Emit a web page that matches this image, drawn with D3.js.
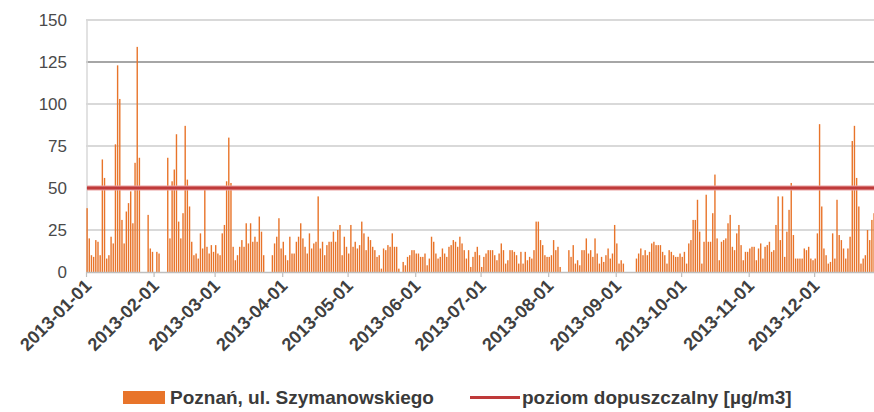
<!DOCTYPE html>
<html>
<head>
<meta charset="utf-8">
<script src="https://cdn.jsdelivr.net/npm/d3@7"></script>
<style>
  body { margin: 0; background: #fff; }
  svg { display: block; font-family: "Liberation Sans", Arial, sans-serif; }
</style>
</head>
<body>
<div id="chart"></div>
<script>
// Daily PM10 values, one array per month (null = no measurement)
const jan = [38, 20, 10, 9, 19, 18, 10, 67, 56, 8, 10, 21, 17, 76, 123, 103, 31, 17, 36, 41, 48, 29, 65, 134, 68, null, null, null, 34, 14, 12];
const feb = [null, 12, 11, null, null, null, 68, 20, 54, 61, 82, 30, 20, 35, 87, 55, 39, 18, 10, 11, 8, 23, 14, 49, 15, 11, 16, 12];
const mar = [16, 11, 10, 23, 28, 54, 80, 53, 15, 7, 10, 15, 19, 15, 29, 17, 29, 18, 21, 18, 33, 24, 10, null, null, null, 10, 17, 21, 32, 14];
const apr = [18, 10, 7, 21, 11, 11, 18, 21, 29, 20, 15, 11, 23, 14, 17, 18, 45, 14, 18, 10, 16, 18, 18, 24, 18, 25, 28, 10, 21, 15];
const may = [11, 28, 15, 18, 14, 16, 30, 23, 13, 21, 19, 15, 13, 9, 10, 2, 14, 13, 16, 15, 23, 15, 15, 2, null, 6, 4, 9, 10, 13, 13];
const jun = [11, 11, 9, 9, 11, 4, 8, 21, 18, 11, 8, 9, 14, 11, 9, 15, 16, 19, 18, 15, 21, 17, 13, 8, 13, 3, 9, 12, 15, 10];
const jul = [3, 9, 11, 13, 13, 13, 10, 7, 11, 17, 13, 5, 7, 13, 13, 12, 10, 5, 12, 5, 12, 7, 9, 8, 13, 30, 30, 19, 16, 10, 9];
const aug = [9, 10, 19, 13, 15, 3, null, null, null, 13, 9, 16, 5, 7, 4, 13, 13, 20, 11, 13, 9, 20, 11, 5, 9, 6, 10, 14, 8, 11, 28];
const sep = [17, 5, 7, 5, null, null, null, null, null, 8, 11, 14, 10, 13, 10, 12, 17, 18, 16, 16, 16, 12, 10, 5, 13, 12, 10, 9, 9, 11];
const oct = [9, 12, 5, 17, 19, 31, 31, 43, 24, 5, 18, 46, 18, 18, 35, 58, 20, 7, 18, 19, 20, 29, 34, 15, 13, 23, 28, 16, 7, 12, 12];
const nov = [14, 15, 15, 7, 14, 17, 8, 15, 16, 18, 12, 13, 28, 45, 19, 45, 9, 24, 37, 53, 22, 8, 8, 8, 8, 14, 13, 15, 8, 7];
const dec = [8, 23, 88, 39, 14, 10, 5, 6, 23, 8, 43, 22, 19, 14, 8, 14, 21, 78, 87, 56, 39, 5, 8, 10, 25, 19, 31, 35, 20, 18, 12];

const months = [jan, feb, mar, apr, may, jun, jul, aug, sep, oct, nov, dec];
const yTicks = [0, 25, 50, 75, 100, 125, 150];
const limitValue = 50;
const seriesName = 'Poznań, ul. Szymanowskiego';
const limitName = 'poziom dopuszczalny [µg/m3]';

const width = 874, height = 412;
const margin = {top: 20, left: 86, bottom: 140};
const plotRight = 881.7; // chart is cut off at the right edge of the picture

// Flatten into daily records
const days = [];
months.forEach((vals, m) => {
    vals.forEach((v, i) => {
        days.push({date: new Date(Date.UTC(2013, m, i + 1)), value: v});
    });
});

const svg = d3.select('#chart')
    .append('svg')
    .attr('width', width)
    .attr('height', height);

const x = d3.scaleUtc()
    .domain([new Date(Date.UTC(2013, 0, 1)), new Date(Date.UTC(2014, 0, 1))])
    .range([margin.left, plotRight]);

const y = d3.scaleLinear()
    .domain([0, 150])
    .range([height - margin.bottom, margin.top]);

// Grid lines
svg.append('g')
    .selectAll('line')
    .data(yTicks.filter(d => d > 0))
    .enter()
    .append('line')
    .attr('x1', margin.left)
    .attr('x2', width)
    .attr('y1', d => y(d))
    .attr('y2', d => y(d))
    .attr('stroke', d => d === 125 ? '#a6a6a6' : '#d9d9d9')
    .attr('stroke-width', 1.8);

// Left axis line
svg.append('line')
    .attr('x1', margin.left + 1)
    .attr('x2', margin.left + 1)
    .attr('y1', y(150))
    .attr('y2', y(0))
    .attr('stroke', '#d9d9d9')
    .attr('stroke-width', 1.5);

// Y axis labels
svg.append('g')
    .selectAll('text')
    .data(yTicks)
    .enter()
    .append('text')
    .attr('x', 67)
    .attr('y', d => y(d) + 6)
    .attr('text-anchor', 'end')
    .attr('font-size', '17px')
    .attr('fill', '#4a4a4a')
    .text(d => d);

// Bars
const dayW = x(new Date(Date.UTC(2013, 0, 2))) - x(new Date(Date.UTC(2013, 0, 1)));
svg.append('g')
    .selectAll('rect')
    .data(days.filter(d => d.value != null))
    .enter()
    .append('rect')
    .attr('x', d => x(d.date) + dayW / 2 - 0.7)
    .attr('width', 1.4)
    .attr('y', d => y(d.value))
    .attr('height', d => y(0) - y(d.value))
    .attr('fill', '#e8742a');

// X axis (one tick per month of 2013)
const monthStarts = d3.utcMonth.range(new Date(Date.UTC(2013, 0, 1)), new Date(Date.UTC(2014, 0, 1)));
const xAxis = svg.append('g')
    .attr('transform', `translate(0,${y(0)})`)
    .call(d3.axisBottom(x)
        .tickValues(monthStarts)
        .tickFormat(d3.utcFormat('%Y-%m-%d'))
        .tickSize(5)
        .tickSizeOuter(0))
    .call(g => g.select('.domain').attr('stroke', '#bfbfbf').attr('stroke-width', 1.5))
    .call(g => g.selectAll('.tick line').attr('stroke', '#bfbfbf').attr('stroke-width', 1.2));

xAxis.selectAll('.tick text')
    .attr('font-size', '18px')
    .attr('font-weight', 'bold')
    .attr('fill', '#404040')
    .attr('text-anchor', 'end')
    .attr('dy', null)
    .attr('y', 0)
    .attr('transform', 'translate(6,15) rotate(-45)');

// Limit line
svg.append('line')
    .attr('x1', margin.left + 1)
    .attr('x2', width)
    .attr('y1', y(limitValue))
    .attr('y2', y(limitValue))
    .attr('stroke', '#e9a0a0')
    .attr('stroke-width', 5);
svg.append('line')
    .attr('x1', margin.left + 1)
    .attr('x2', width)
    .attr('y1', y(limitValue))
    .attr('y2', y(limitValue))
    .attr('stroke', '#bf3a3a')
    .attr('stroke-width', 3);

// Legend
const legend = svg.append('g');
legend.append('rect')
    .attr('x', 123).attr('y', 391)
    .attr('width', 42).attr('height', 13)
    .attr('fill', '#e8742a');
legend.append('text')
    .attr('x', 170).attr('y', 404)
    .attr('font-size', '19px')
    .attr('font-weight', 'bold')
    .attr('fill', '#3a3a3a')
    .text(seriesName);
legend.append('line')
    .attr('x1', 470).attr('x2', 520)
    .attr('y1', 397.5).attr('y2', 397.5)
    .attr('stroke', '#bf3a3a')
    .attr('stroke-width', 3);
legend.append('text')
    .attr('x', 522).attr('y', 404)
    .attr('font-size', '19px')
    .attr('font-weight', 'bold')
    .attr('fill', '#3a3a3a')
    .text(limitName);
</script>
</body>
</html>
